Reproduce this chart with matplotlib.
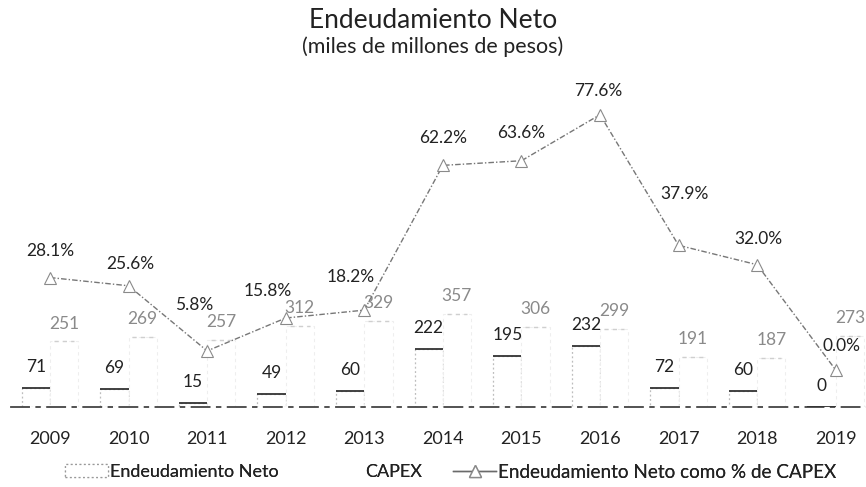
import matplotlib
matplotlib.use("Agg")
import matplotlib.pyplot as plt
from matplotlib.lines import Line2D
from matplotlib.patches import Patch
import numpy as np

years = ["2009", "2010", "2011", "2012", "2013", "2014", "2015", "2016", "2017", "2018", "2019"]
endeudamiento = [71, 69, 15, 49, 60, 222, 195, 232, 72, 60, 0]
capex = [251, 269, 257, 312, 329, 357, 306, 299, 191, 187, 273]
pct = [28.1, 25.6, 5.8, 15.8, 18.2, 62.2, 63.6, 77.6, 37.9, 32.0, 0.0]

# label offsets (points) for the percentage labels (layout only)
pct_offsets = [(0, 13.5), (1, 10), (-9, 27), (-13, 13.5), (-10, 18), (0, 14), (0, 14.5),
               (-1.5, 11.5), (4, 31), (1, 13), (4, 11.5)]

plt.rcParams['font.family'] = ['Lato', 'DejaVu Sans']

fig = plt.figure(figsize=(8.66, 4.87), dpi=100)
W, H = 866, 487
left_px, right_px = 10.7, 875.0
top_px, bot_px = 85, 407
ax = fig.add_axes([left_px / W, 1 - bot_px / H, (right_px - left_px) / W, (bot_px - top_px) / H])
ax2 = ax.twinx()

x = np.arange(len(years))
bw = 0.36

bars_e = ax.bar(x - bw / 2, endeudamiento, width=bw, facecolor='white', edgecolor='#bdbdbd',
                linestyle=(0, (1.5, 2)), linewidth=0.9, zorder=2)
bars_c = ax.bar(x + bw / 2, capex, width=bw, facecolor='white', edgecolor='#eeeeee',
                linestyle=(0, (3, 3)), linewidth=0.8, zorder=2)
for r in bars_e:
    ax.hlines(r.get_height(), r.get_x(), r.get_x() + r.get_width(), color='#333333', lw=1.3, zorder=3)
for r in bars_c:
    ax.hlines(r.get_height(), r.get_x() + 0.05, r.get_x() + r.get_width() - 0.05, color='#cfcfcf', lw=1.0,
              linestyle=(0, (3, 3)), zorder=3)

for r, v in zip(bars_e, endeudamiento):
    ax.annotate(str(v), (r.get_x() + r.get_width() / 2, r.get_height()), xytext=(0, 9.5),
                textcoords='offset points', ha='center', va='bottom', fontsize=12.5, color='#222222')
for r, v in zip(bars_c, capex):
    ax.annotate(str(v), (r.get_x() + r.get_width() / 2, r.get_height()), xytext=(0, 7),
                textcoords='offset points', ha='center', va='bottom', fontsize=12.5, color='#8a8a8a')

ax2.plot(x, pct, color='#777777', lw=1.0, linestyle=(0, (4, 1.5, 1, 1.5)), marker='^', markersize=8,
         markerfacecolor='white', markeredgecolor='#8a8a8a', markeredgewidth=0.8, zorder=4)
for xi, p, off in zip(x, pct, pct_offsets):
    ax2.annotate(f"{p:.1f}%", (xi, p), xytext=off, textcoords='offset points', ha='center', va='bottom',
                 fontsize=12.5, color='#222222')

ax.set_xlim(-0.5, len(years) - 0.5)
ax.set_ylim(0, (bot_px - top_px) / 0.261)
ax2.set_ylim((370 - bot_px) / 3.29, (370 - top_px) / 3.29)

for a in (ax, ax2):
    for s in ['top', 'right', 'left']:
        a.spines[s].set_visible(False)
    a.set_yticks([])
ax2.spines['bottom'].set_visible(False)
ax.spines['bottom'].set_color('#444444')
ax.spines['bottom'].set_linewidth(1.3)
ax.spines['bottom'].set_linestyle((0, (10, 4, 2, 4)))
ax.set_xticks(x)
ax.set_xticklabels(years, fontsize=13, color='#222222')
ax.tick_params(axis='x', length=0, pad=17)

fig.text(0.5, 1 - 21 / H, "Endeudamiento Neto", ha='center', va='center', fontsize=19, color='#222222')
fig.text(0.5, 1 - 47 / H, "(miles de millones de pesos)", ha='center', va='center', fontsize=15.5, color='#222222')

legend_items = [
    (Patch(facecolor='white', edgecolor='#999999', linestyle=(0, (1.5, 2)), linewidth=0.9),
     "Endeudamiento Neto", 65, 13),
    (Patch(facecolor='white', edgecolor='white'), "CAPEX", 320, 13),
    (Line2D([0], [0], color='#6a6a6a', lw=1.0, marker='^', markersize=8, markerfacecolor='white',
            markeredgecolor='#8a8a8a'), "Endeudamiento Neto como % de CAPEX", 453, 13.6),
]
for h, lab, xpx, fs in legend_items:
    leg = fig.legend([h], [lab], loc='center left', bbox_to_anchor=(xpx / W, 1 - 472 / H), frameon=False,
                     fontsize=fs, handlelength=43 / (fs * 100 / 72), handletextpad=0.1, borderpad=0,
                     borderaxespad=0, labelcolor='#222222')
    fig.add_artist(leg)

fig.savefig("out.png", dpi=100)
